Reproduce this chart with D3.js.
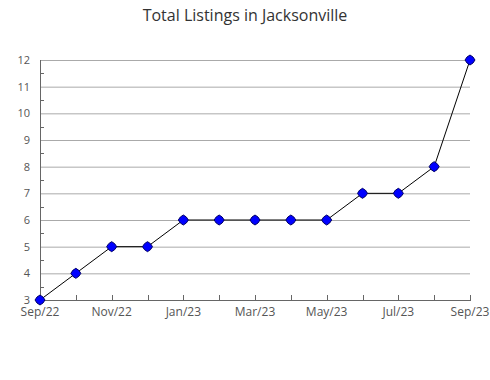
<!DOCTYPE html>
<html><head><meta charset="utf-8">
<script src="https://cdn.jsdelivr.net/npm/d3@7"></script>
<style>body{margin:0;background:#fff}svg{display:block}text{font-family:"Open Sans",sans-serif}</style>
</head><body>
<svg id="c" width="490" height="380"></svg>
<script>
const months = ["Sep/22","Oct/22","Nov/22","Dec/22","Jan/23","Feb/23","Mar/23","Apr/23","May/23","Jun/23","Jul/23","Aug/23","Sep/23"];
const values = [3,4,5,5,6,6,6,6,6,7,7,8,12];
const yTicks = [3,4,5,6,7,8,9,10,11,12];
const title = "Total Listings in Jacksonville";

const svg = d3.select("#c");
const L=40, R=470, T=60, B=300;
const x = d3.scalePoint().domain(months).range([L,R]);
const y = d3.scaleLinear().domain([3,12]).range([B,T]);

svg.append("text").attr("x",245).attr("y",21).attr("text-anchor","middle")
  .attr("font-size",16).attr("fill","#333").text(title);

// gridlines
svg.append("g").selectAll("line").data(yTicks.slice(1)).join("line")
  .attr("x1",L).attr("x2",R).attr("y1",d=>y(d)+0.5).attr("y2",d=>y(d)+0.5)
  .attr("stroke","#aaa").attr("stroke-width",1);
// minor y ticks
svg.append("g").selectAll("line").data(yTicks.slice(0,-1).map(d=>d+0.5)).join("line")
  .attr("x1",L).attr("x2",L+4).attr("y1",d=>Math.round(y(d))+0.5).attr("y2",d=>Math.round(y(d))+0.5)
  .attr("stroke","#666");
// y labels
svg.append("g").selectAll("text").data(yTicks).join("text")
  .attr("x",30).attr("y",d=>y(d)+4).attr("text-anchor","end")
  .attr("font-size",11).attr("fill","#555").text(d=>d);

// axes lines
svg.append("line").attr("x1",L+0.5).attr("x2",L+0.5).attr("y1",T).attr("y2",B+0.5).attr("stroke","#666");
svg.append("line").attr("x1",L).attr("x2",R+1).attr("y1",B+0.5).attr("y2",B+0.5).attr("stroke","#666");
// x ticks
svg.append("g").selectAll("line").data(months).join("line")
  .attr("x1",d=>Math.round(x(d))+0.5).attr("x2",d=>Math.round(x(d))+0.5).attr("y1",B-5).attr("y2",B)
  .attr("stroke","#666");
svg.append("g").selectAll("text").data(months.filter((d,i)=>i%2===0)).join("text")
  .attr("x",d=>x(d)).attr("y",B+16).attr("text-anchor","middle")
  .attr("font-size",12).attr("fill","#555").text(d=>d);

// line
const pts = months.map((m,i)=>[x(m), y(values[i])]);
svg.append("path").attr("d",d3.line()(pts)).attr("fill","none").attr("stroke","#000").attr("stroke-width",1);
// markers
const mk = "M-5,0 L-3,-3 L0,-5 L3,-3 L5,0 L3,3 L0,5 L-3,3 Z";
svg.append("g").selectAll("path").data(pts).join("path")
  .attr("transform",d=>`translate(${d[0]},${d[1]})`).attr("d",mk)
  .attr("fill","#0000ff").attr("stroke","#000066").attr("stroke-width",1);
</script>
</body></html>
